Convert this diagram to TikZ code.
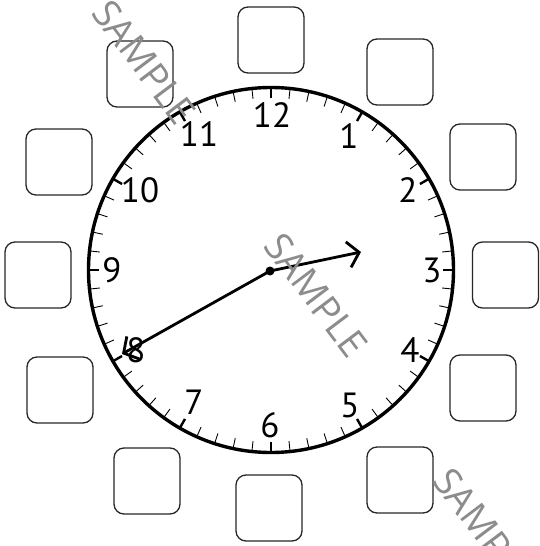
\documentclass[tikz,border=0pt]{standalone}
\usepackage{fontspec}
\setmainfont{PT Sans}
\newfontfamily\wmfont{Open Sans}
\usetikzlibrary{arrows.meta,calc}
\tikzset{
  answerbox/.style={draw=black!85, line width=1.3pt, rounded corners=10pt, minimum width=66pt, minimum height=66pt, inner sep=0pt},
  numlabel/.style={font=\fontsize{35}{35}\selectfont, inner sep=0pt, anchor=center},
  hourtick/.style={line width=2.4pt},
  mintick/.style={line width=0.9pt},
  hand/.style={line width=2.8pt, -{Straight Barb[length=11pt, width=26pt, line width=2.8pt]}},
  watermark/.style={font=\wmfont\fontsize{38}{38}\selectfont, text=black!45, rotate=-53, inner sep=0pt}
}
\begin{document}
\begin{tikzpicture}[x=1pt, y=-1pt]
\useasboundingbox (0,0) rectangle (540,546);
% answer boxes
\node[answerbox] (b12) at (271,40) {};
\node[answerbox] (b1) at (400,72) {};
\node[answerbox] (b2) at (483,157) {};
\node[answerbox] (b3) at (505.5,275) {};
\node[answerbox] (b4) at (483,388) {};
\node[answerbox] (b5) at (400,480) {};
\node[answerbox] (b6) at (269,508) {};
\node[answerbox] (b7) at (147,481) {};
\node[answerbox] (b8) at (60,390) {};
\node[answerbox] (b9) at (38,275) {};
\node[answerbox] (b10) at (59,162) {};
\node[answerbox] (b11) at (140,74) {};
% clock face
\coordinate (c) at (271,270);
\draw[line width=3.4pt] (c) circle (182.5);
\foreach \m in {0,...,59}{
  \pgfmathtruncatemacro{\isHour}{mod(\m,5)==0 ? 1 : 0}
  \ifnum\isHour=1
    \draw[hourtick] ($(c)+(\m*6-90:182)$) -- ($(c)+(\m*6-90:172)$);
  \else
    \draw[mintick] ($(c)+(\m*6-90:182)$) -- ($(c)+(\m*6-90:172)$);
  \fi
}
% numerals
\node[numlabel] (n12) at (272,115) {12};
\node[numlabel] (n1) at (349,136) {1};
\node[numlabel] (n2) at (408,190) {2};
\node[numlabel] (n3) at (432,270) {3};
\node[numlabel] (n4) at (410,350) {4};
\node[numlabel] (n5) at (350,405) {5};
\node[numlabel] (n6) at (270,425) {6};
\node[numlabel] (n7) at (194,402) {7};
\node[numlabel] (n8) at (136,350) {8};
\node[numlabel] (n9) at (112,270) {9};
\node[numlabel] (n10) at (140,190) {10};
\node[numlabel] (n11) at (199,134) {11};
% hands
\coordinate (hc) at (270,271);
\coordinate (hourtip) at (361,252);
\coordinate (mintip) at (122,354);
\draw[hand] (hc) -- (hourtip);
\draw[hand] (hc) -- (mintip);
\fill (hc) circle (4.5);
% watermarks
\node[watermark] (w1) at (144,62) {SAMPLE};
\node[watermark] (w2) at (316,295) {SAMPLE};
\node[watermark] (w3) at (485,530) {SAMPLE};
\end{tikzpicture}
\end{document}
